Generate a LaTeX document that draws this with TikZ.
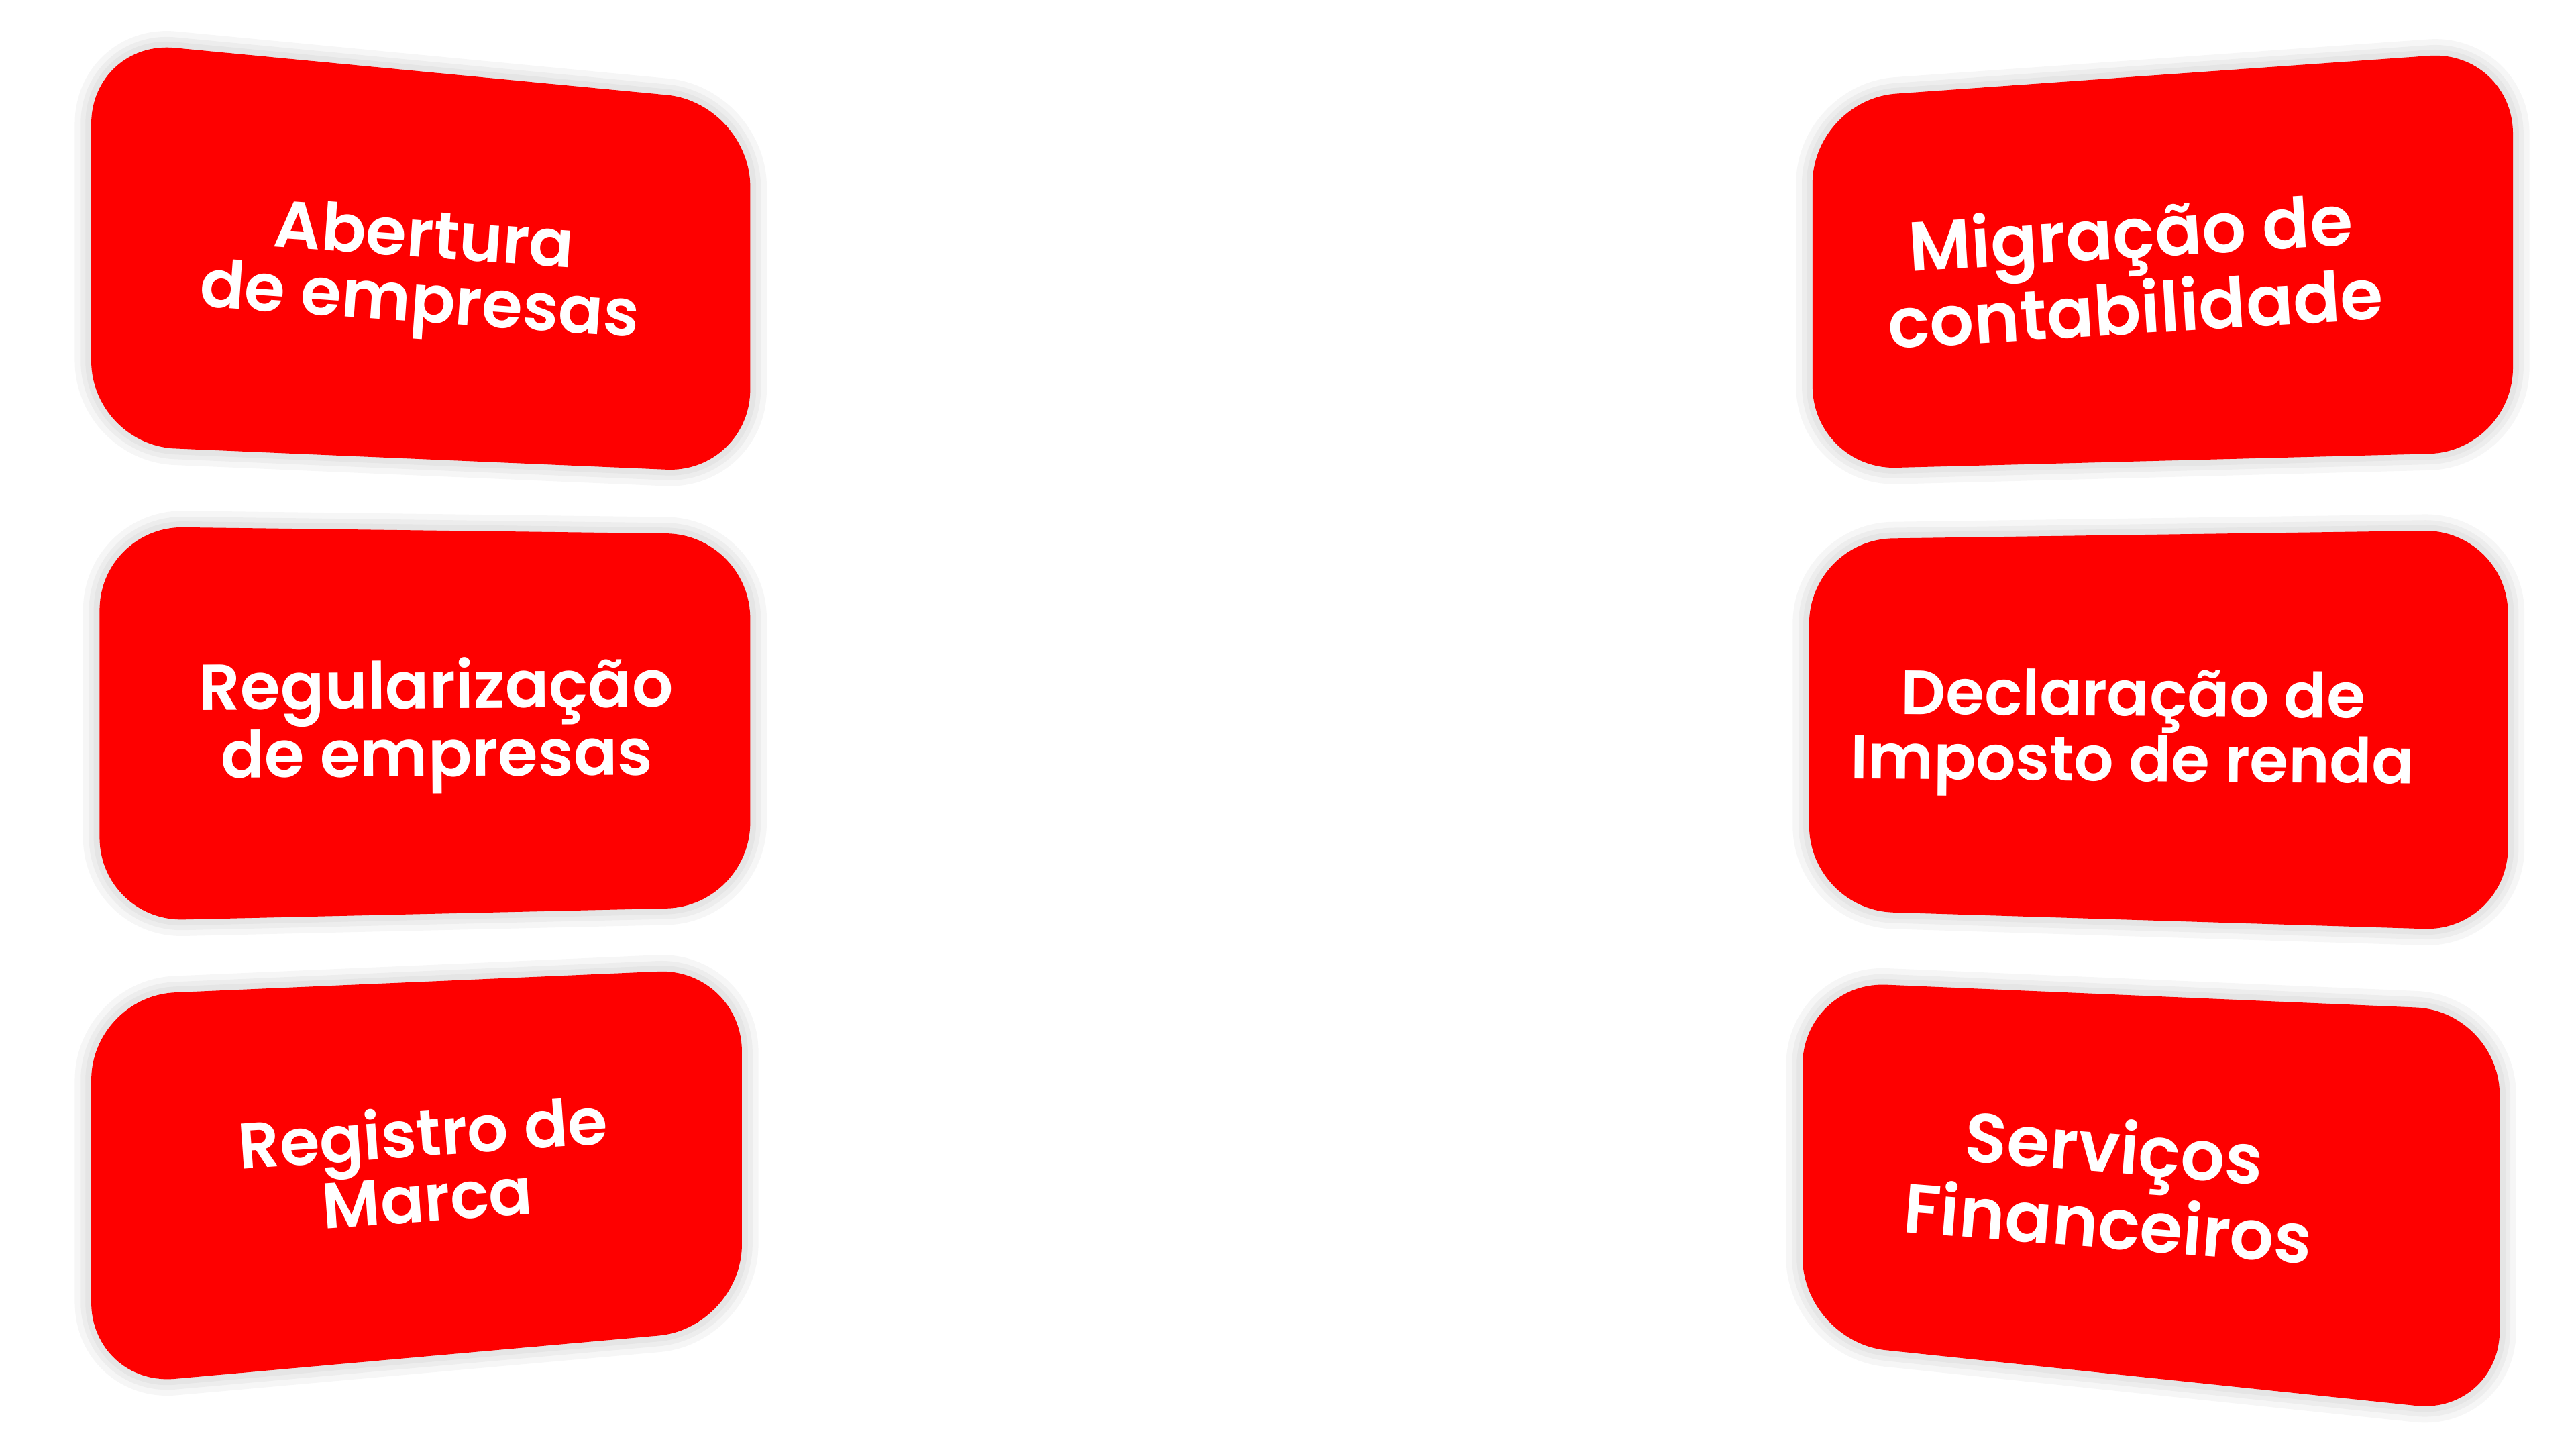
\documentclass[tikz,border=0pt]{standalone}
\usepackage{fontspec}
\setmainfont{Poppins}[BoldFont={Poppins SemiBold}]
\begin{document}
\begin{tikzpicture}[x=0.024742cm,y=-0.024742cm,
  card/.style={fill={rgb,255:red,254;green,0;blue,0}, rounded corners=1.25cm},
  halo/.style={draw=black, draw opacity=0.035, line width=#1, rounded corners=1.25cm, line join=round},
  label/.style={text=white, align=center, inner sep=0pt}]
\useasboundingbox (0,0) rectangle (1552,873);
% soft halos behind the cards
\foreach \w in {14pt,9pt,5pt}{
  \draw[halo=\w] (55,24) -- (452,62) -- (452,285) -- (55,268) -- cycle;
  \draw[halo=\w] (60,317) -- (452,322) -- (452,546) -- (60,555) -- cycle;
  \draw[halo=\w] (55,600) -- (447,583) -- (447,800) -- (55,835) -- cycle;
  \draw[halo=\w] (1092,60) -- (1514,30) -- (1514,272) -- (1092,283) -- cycle;
  \draw[halo=\w] (1090,325) -- (1511,319) -- (1511,561) -- (1090,548) -- cycle;
  \draw[halo=\w] (1086,591) -- (1506,609) -- (1506,852) -- (1086,808) -- cycle;
}
% cards
\fill[card] (55,24) -- (452,62) -- (452,285) -- (55,268) -- cycle;
\fill[card] (60,317) -- (452,322) -- (452,546) -- (60,555) -- cycle;
\fill[card] (55,600) -- (447,583) -- (447,800) -- (55,835) -- cycle;
\fill[card] (1092,60) -- (1514,30) -- (1514,272) -- (1092,283) -- cycle;
\fill[card] (1090,325) -- (1511,319) -- (1511,561) -- (1090,548) -- cycle;
\fill[card] (1086,591) -- (1506,609) -- (1506,852) -- (1086,808) -- cycle;
% labels
\node[label, rotate=-4, font=\bfseries\fontsize{28}{27.4}\selectfont] (t1) at (254,165) {Abertura\\de empresas};
\node[label, rotate=0.4, font=\bfseries\fontsize{27.5}{26.7}\selectfont] (t2) at (263,437) {Regularização\\de empresas};
\node[label, rotate=4, font=\bfseries\fontsize{27.4}{25.5}\selectfont] (t3) at (256,701) {Registro de\\Marca};
\node[label, rotate=3.5, font=\bfseries\fontsize{29.5}{26.8}\selectfont] (t4) at (1285,162) {Migração de\\contabilidade};
\node[label, rotate=-0.5, font=\bfseries\fontsize{26.5}{25.4}\selectfont] (t5) at (1285,442) {Declaração de\\Imposto de renda};
\node[label, rotate=-4.5, font=\bfseries\fontsize{29.5}{27.5}\selectfont] (t6) at (1272,713) {Serviços\\Financeiros};
\end{tikzpicture}
\end{document}
